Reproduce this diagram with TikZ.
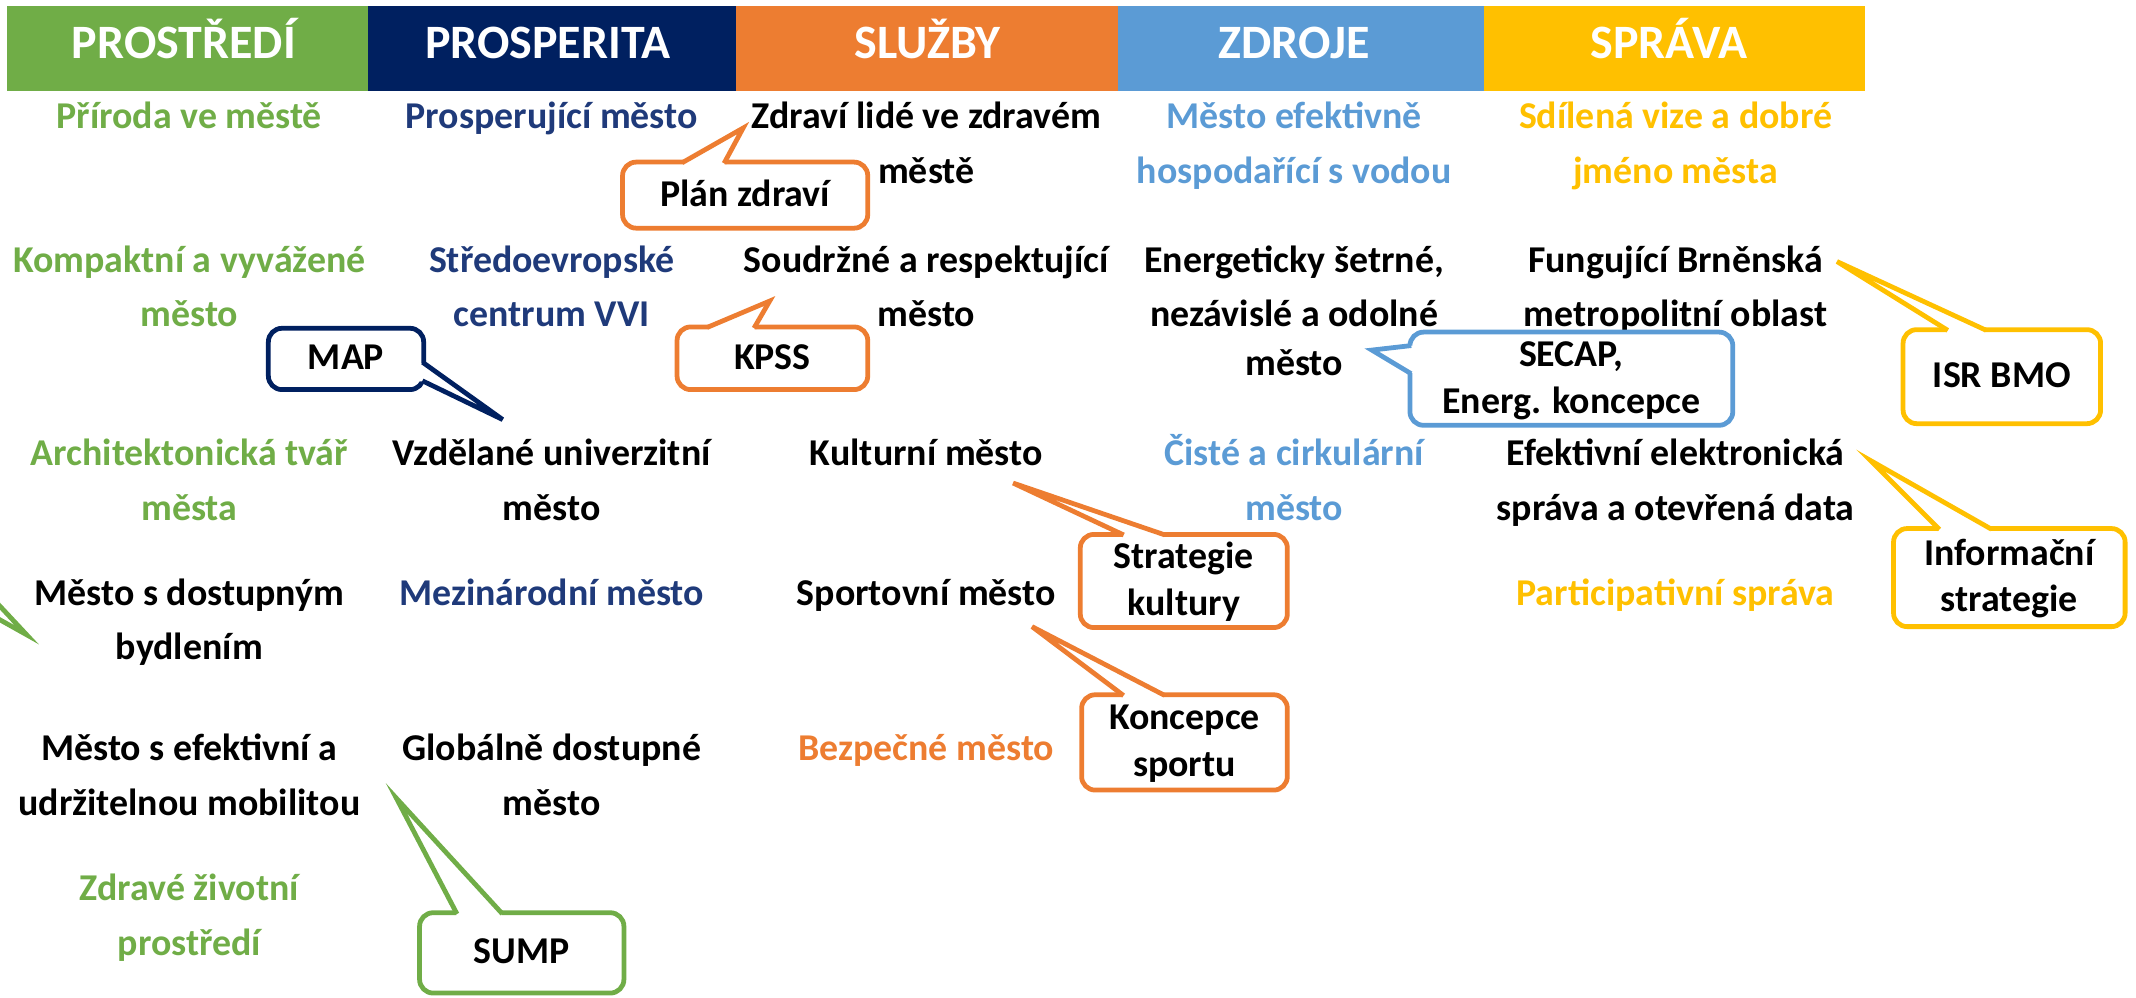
\documentclass[tikz,border=0pt]{standalone}
\usepackage{fontspec}
\setmainfont{Carlito}
\usetikzlibrary{calc}
\definecolor{cgreen}{HTML}{70AD47}
\definecolor{cnavy}{HTML}{002060}
\definecolor{ctnavy}{HTML}{1F3A7A}
\definecolor{corange}{HTML}{ED7D31}
\definecolor{cblue}{HTML}{5B9BD5}
\definecolor{cyellow}{HTML}{FFC000}
\newcommand\cstrut{\vrule height 12.5pt depth 4.5pt width 0pt}
\newcommand\mkwedge[5]{%
  \fill[white] ($(#2)+(#5)$) -- (#2) -- (#3) -- (#4) -- ($(#4)+(#5)$) -- cycle;
  \draw[ptr=#1] (#2) -- (#3) -- (#4);}
\begin{document}
\begin{tikzpicture}[x=0.5pt,y=-0.5pt,
  hdr/.style={text=white, font=\fontsize{17.6}{19}\selectfont\bfseries, anchor=base, inner sep=0pt},
  txt/.style={anchor=north, yshift=14pt, align=center, inner sep=0pt,
    font=\fontsize{13.9}{20}\selectfont\bfseries},
  callbox/.style={draw=#1, line width=1.75pt, rounded corners=5pt, fill=white, align=center,
    inner sep=0pt, outer sep=0pt, font=\fontsize{13.9}{17.2}\selectfont\bfseries},
  ptr/.style={draw=#1, line width=1.75pt, line join=miter, shorten <=-0.5pt, shorten >=-0.5pt}]
\useasboundingbox (0,0) rectangle (1568,732);
\clip (0,0) rectangle (1568,732);

% header bar
\fill[cgreen]  (5,4.4) rectangle (270,67);
\fill[cnavy]   (270,4.4) rectangle (540,67);
\fill[corange] (540,4.4) rectangle (821,67);
\fill[cblue]   (821,4.4) rectangle (1089,67);
\fill[cyellow] (1089,4.4) rectangle (1369,67);
\node[hdr] (h1) at (135,43) {PROSTŘEDÍ};
\node[hdr] (h2) at (402,43) {PROSPERITA};
\node[hdr] (h3) at (681,43) {SLUŽBY};
\node[hdr] (h4) at (950,43) {ZDROJE};
\node[hdr] (h5) at (1225,43) {SPRÁVA};

% column 1
\node[txt, text=cgreen] (t11) at (139,94) {\strut Příroda ve městě};
\node[txt, text=cgreen] (t12) at (139,199.4) {\strut Kompaktní a vyvážené\\město};
\node[txt, text=cgreen] (t13) at (139,341.4) {\strut Architektonická tvář\\města};
\node[txt, text=black]  (t14) at (139,444) {\strut Město s dostupným\\bydlením};
\node[txt, text=black]  (t15) at (139,558) {\strut Město s efektivní a\\udržitelnou mobilitou};
\node[txt, text=cgreen] (t16) at (139,661) {\strut Zdravé životní\\prostředí};
% column 2
\node[txt, text=ctnavy] (t21) at (405,94) {\strut Prosperující město};
\node[txt, text=ctnavy] (t22) at (405,199.4) {\strut Středoevropské\\centrum VVI};
\node[txt, text=black]  (t23) at (405,341.4) {\strut Vzdělané univerzitní\\město};
\node[txt, text=ctnavy] (t24) at (405,444) {\strut Mezinárodní město};
\node[txt, text=black]  (t25) at (405,558) {\strut Globálně dostupné\\město};
% column 3
\node[txt, text=black]   (t31) at (680,94) {\strut Zdraví lidé ve zdravém\\městě};
\node[txt, text=black]   (t32) at (680,199.4) {\strut Soudržné a respektující\\město};
\node[txt, text=black]   (t33) at (680,341.4) {\strut Kulturní město};
\node[txt, text=black]   (t34) at (680,444) {\strut Sportovní město};
\node[txt, text=corange] (t35) at (680,558) {\strut Bezpečné město};
% column 4
\node[txt, text=cblue] (t41) at (950,94) {\strut Město efektivně\\hospodařící s vodou};
\node[txt, text=black] (t42) at (950,199.4) {\strut Energeticky šetrné,\\nezávislé a odolné\\[-2pt]město};
\node[txt, text=cblue] (t43) at (950,341.4) {\strut Čisté a cirkulární\\město};
% column 5
\node[txt, text=cyellow] (t51) at (1230,94) {\strut Sdílená vize a dobré\\jméno města};
\node[txt, text=black]   (t52) at (1230,199.4) {\strut Fungující Brněnská\\metropolitní oblast};
\node[txt, text=black]   (t53) at (1230,341.4) {\strut Efektivní elektronická\\správa a otevřená data};
\node[txt, text=cyellow] (t54) at (1230,444) {\strut Participativní správa};

% callouts
\node[callbox=corange, minimum width=90pt, minimum height=24.25pt] (plan) at (547,143.25) {\cstrut Plán zdraví\cstrut};
\coordinate (plan-t) at (545.5,94);
\coordinate (plan-a) at ($(plan.north west)+(44.6,0)$);
\coordinate (plan-b) at ($(plan.north west)+(75,0)$);
\mkwedge{corange}{plan-a}{plan-t}{plan-b}{0,4}

\node[callbox=corange, minimum width=70pt, minimum height=23pt] (kpss) at (567,263) {\cstrut KPSS\cstrut};
\coordinate (kpss-t) at (565,221);
\coordinate (kpss-a) at ($(kpss.north west)+(23,0)$);
\coordinate (kpss-b) at ($(kpss.north west)+(57,0)$);
\mkwedge{corange}{kpss-a}{kpss-t}{kpss-b}{0,4}

\node[callbox=cnavy, minimum width=57pt, minimum height=22.5pt] (map) at (254,263.5) {\cstrut MAP\cstrut};
\coordinate (map-t) at (369,308);
\coordinate (map-a) at ($(map.north east)+(0,25.5)$);
\coordinate (map-b) at ($(map.north east)+(0,39)$);
\mkwedge{cnavy}{map-a}{map-t}{map-b}{-4,0}

\node[callbox=cblue, minimum width=118.5pt, minimum height=32pt] (secap) at (1153.5,278) {\cstrut SECAP,\\Energ. koncepce\cstrut};
\coordinate (secap-t) at (1007,257);
\coordinate (secap-a) at ($(secap.north west)+(0,10)$);
\coordinate (secap-b) at ($(secap.north west)+(0,30)$);
\mkwedge{cblue}{secap-a}{secap-t}{secap-b}{4,0}

\node[callbox=cyellow, minimum width=72.5pt, minimum height=34.5pt] (isr) at (1469.5,276.5) {\cstrut ISR BMO\cstrut};
\coordinate (isr-t) at (1348.5,192);
\coordinate (isr-a) at ($(isr.north west)+(32,0)$);
\coordinate (isr-b) at ($(isr.north west)+(60,0)$);
\mkwedge{cyellow}{isr-a}{isr-t}{isr-b}{0,4}

\node[callbox=cyellow, minimum width=85pt, minimum height=36pt] (info) at (1475,424) {\cstrut Informační\\strategie\cstrut};
\coordinate (info-t) at (1373,338);
\coordinate (info-a) at ($(info.north west)+(33,0)$);
\coordinate (info-b) at ($(info.north west)+(71,0)$);
\mkwedge{cyellow}{info-a}{info-t}{info-b}{0,4}

\node[callbox=corange, minimum width=76pt, minimum height=32.5pt] (kult) at (869,426.5) {\cstrut Strategie\\kultury\cstrut};
\coordinate (kult-t) at (743.7,354.6);
\coordinate (kult-a) at ($(kult.north west)+(31,0)$);
\coordinate (kult-b) at ($(kult.north west)+(61,0)$);
\mkwedge{corange}{kult-a}{kult-t}{kult-b}{0,4}

\node[callbox=corange, minimum width=75.5pt, minimum height=35pt] (sport) at (869.5,545) {\cstrut Koncepce\\sportu\cstrut};
\coordinate (sport-t) at (757.6,460);
\coordinate (sport-a) at ($(sport.north west)+(30,0)$);
\coordinate (sport-b) at ($(sport.north west)+(60,0)$);
\mkwedge{corange}{sport-a}{sport-t}{sport-b}{0,4}

\node[callbox=cgreen, minimum width=75pt, minimum height=29.5pt] (sump) at (383,699.5) {\cstrut SUMP\cstrut};
\coordinate (sump-t) at (291,586);
\coordinate (sump-a) at ($(sump.north west)+(27,0)$);
\coordinate (sump-b) at ($(sump.north west)+(60,0)$);
\mkwedge{cgreen}{sump-a}{sump-t}{sump-b}{0,4}

% partial callout entering from the left edge
\coordinate (left-t) at (19.6,466);
\coordinate (left-a) at (-20,423.6);
\coordinate (left-b) at (-20,443.8);
\draw[ptr=cgreen] (left-a) -- (left-t) -- (left-b);
\end{tikzpicture}
\end{document}
